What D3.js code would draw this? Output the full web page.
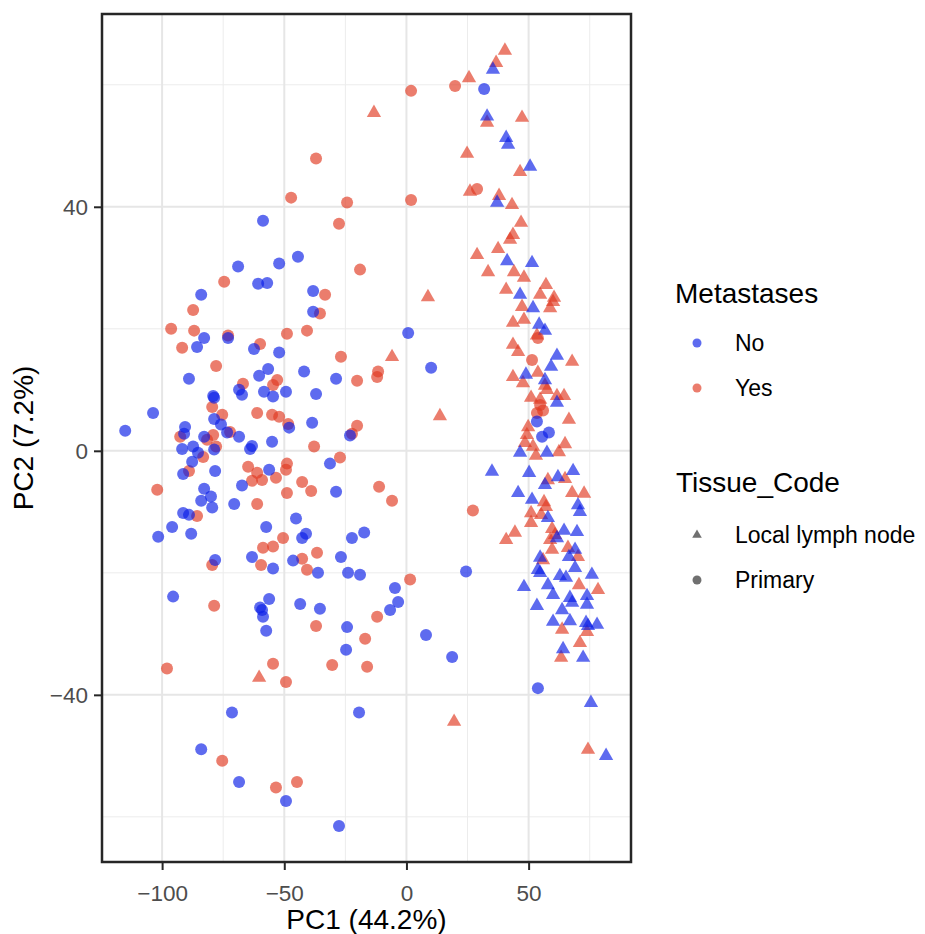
<!DOCTYPE html>
<html>
<head>
<meta charset="utf-8">
<script src="https://cdn.jsdelivr.net/npm/d3@7"></script>
<style>
  body { margin: 0; background: #fff; }
  svg { display: block; font-family: "Liberation Sans", Arial, Helvetica, sans-serif; }
</style>
</head>
<body>
<div id="chart"></div>
<script>
// ---- data (PC1, PC2) by group
const noPrimary = [
  [-58.7,37.7],[-44.4,31.8],[-52.1,30.7],[-68.9,30.2],[-60.7,27.4],[-57.0,27.5],[-38.2,26.2],[-84.0,25.6],
  [-38.2,22.8],[-82.8,18.5],[-73.0,18.5],[-85.7,17.0],[-62.4,16.7],[-52.1,16.1],[-56.6,13.4],[-60.3,12.3],
  [-41.9,13.0],[-28.8,11.8],[-89.0,11.8],[-68.5,10.0],[-67.3,9.2],[-58.3,9.7],[-54.6,8.9],[-49.3,9.7],
  [-37.0,9.3],[-79.1,9.0],[-78.7,8.7],[-103.7,6.2],[-78.7,5.2],[-115.1,3.3],[-90.6,3.9],[-91.0,2.8],
  [-75.9,4.3],[-73.4,3.0],[-68.5,2.3],[-48.0,3.8],[-38.6,4.6],[-23.1,2.5],[-82.8,2.3],[-78.7,0.2],
  [-91.8,0.3],[-87.3,0.7],[-85.3,-0.3],[-87.7,-1.8],[-91.4,-3.8],[-63.2,0.8],[-64.0,0.3],[-55.0,1.5],
  [-78.3,-3.3],[-56.2,-3.1],[-31.3,-2.1],[-28.8,-6.7],[-67.3,-5.7],[-82.8,-6.2],[-80.0,-7.5],[-84.0,-8.2],
  [-79.5,-9.3],[-70.5,-8.7],[-45.2,-11.1],[-91.4,-10.2],[-89.0,-10.5],[-95.9,-12.5],[-101.6,-14.1],[-88.1,-13.6],
  [-57.4,-12.5],[-41.1,-13.6],[-42.7,-14.3],[-22.3,-14.3],[-17.3,-13.4],[-26.8,-17.4],[-63.2,-17.4],[-46.4,-18.0],
  [-78.3,-17.9],[-54.6,-19.3],[-36.2,-20.0],[-23.9,-20.0],[-19.0,-20.3],[-95.5,-23.9],[-56.2,-24.3],[-59.1,-26.1],
  [-59.9,-25.7],[-58.7,-27.2],[-57.4,-29.5],[-43.5,-25.1],[-35.4,-25.9],[-24.3,-28.9],[-24.7,-32.6],[-71.4,-42.9],
  [-19.4,-42.9],[-84.0,-48.9],[-68.5,-54.3],[-49.3,-57.4],[-27.6,-61.5],[24.4,-19.8],[-4.7,-22.5],[-3.4,-24.8],
  [-6.7,-26.1],[8.0,-30.2],[18.7,-33.8],[53.8,-38.9],[31.8,59.3],[0.7,19.3],[10.1,13.6],[53.4,4.8],
  [58.3,3.0],[55.5,2.3]
];
const yesPrimary = [
  [-37.0,47.9],[-47.2,41.5],[-24.3,40.7],[-27.6,37.2],[-19.0,29.7],[-74.6,27.7],[-33.3,25.6],[-87.3,23.1],
  [-35.4,22.5],[-96.3,20.0],[-86.9,19.7],[-73.0,18.9],[-48.9,19.2],[-40.7,19.7],[-91.8,16.9],[-59.9,17.5],
  [-26.8,15.4],[-77.9,13.9],[-20.2,11.5],[-66.9,11.0],[-52.9,11.6],[-54.6,10.8],[-79.5,7.2],[-61.1,6.2],
  [-75.4,5.9],[-55.0,5.9],[-52.1,5.6],[-72.2,3.1],[-48.4,4.4],[-20.2,4.1],[-22.3,2.8],[-92.6,2.3],
  [-81.6,1.8],[-79.1,2.6],[-77.9,0.7],[-83.2,-1.0],[-89.0,-3.3],[-37.8,0.7],[-64.8,-2.6],[-61.1,-3.6],
  [-63.2,-4.9],[-59.1,-4.8],[-53.4,-4.4],[-48.9,-2.1],[-49.3,-3.1],[-27.2,-1.1],[-42.7,-5.1],[-39.0,-6.6],
  [-48.9,-6.9],[-102.0,-6.4],[-61.1,-8.7],[-85.7,-10.7],[-50.5,-14.3],[-58.7,-15.9],[-54.6,-15.7],[-36.6,-16.7],
  [-42.7,-17.7],[-40.7,-19.5],[-79.5,-18.7],[-59.5,-18.7],[-78.7,-25.4],[-37.0,-28.7],[-16.9,-30.8],[-98.0,-35.7],
  [-54.6,-34.9],[-49.3,-37.9],[-30.4,-35.1],[-16.1,-35.4],[-75.4,-50.8],[-53.4,-55.2],[-44.8,-54.3],[1.5,-21.1],
  [-12.0,-27.2],[19.9,59.8],[1.9,59.0],[1.9,41.1],[28.9,42.9],[-11.6,13.0],[-12.0,12.1],[-11.2,-5.9],
  [-5.9,-8.2],[27.2,-9.8],[51.4,14.9],[54.7,7.5],[55.9,6.6],[53.4,6.2],[53.8,18.5]
];
const noLymph = [
  [35.4,62.5],[33.0,54.8],[40.8,51.3],[41.6,50.2],[50.6,46.6],[37.1,40.7],[41.2,31.1],[51.4,30.8],
  [46.5,25.6],[51.8,23.4],[54.3,20.7],[56.7,19.7],[61.6,15.6],[59.2,13.8],[48.9,12.5],[56.7,11.6],
  [61.6,7.9],[46.5,-0.3],[57.5,-0.3],[35.0,-3.4],[50.2,-3.6],[68.2,-3.3],[62.0,-4.3],[56.7,-5.6],
  [45.7,-6.9],[51.4,-8.0],[70.2,-8.9],[71.0,-10.0],[57.9,-11.0],[64.5,-13.1],[69.8,-13.3],[61.6,-14.3],
  [69.0,-16.2],[54.7,-17.5],[66.5,-17.4],[69.0,-19.2],[53.8,-19.5],[62.8,-20.5],[65.3,-20.8],[75.9,-20.3],
  [48.1,-22.3],[57.9,-22.0],[60.0,-23.6],[66.9,-24.1],[73.9,-23.8],[53.4,-25.4],[63.7,-26.1],[73.9,-25.2],
  [60.0,-28.0],[66.9,-27.9],[73.5,-28.2],[74.3,-28.7],[78.0,-28.5],[64.1,-32.5],[72.3,-33.9],[75.5,-41.3],
  [81.7,-50.0],[54.7,-20.0],[67.8,-24.9]
];
const yesLymph = [
  [40.3,65.6],[36.7,63.6],[25.6,61.1],[-13.3,55.4],[33.0,53.8],[47.3,54.6],[24.8,48.7],[46.5,45.7],
  [26.0,42.5],[37.9,41.8],[43.2,40.3],[46.9,37.4],[43.6,35.4],[42.4,34.6],[28.9,32.1],[37.5,33.1],
  [33.4,29.3],[44.0,29.3],[48.1,28.4],[8.8,25.2],[40.8,26.4],[57.1,27.2],[54.7,25.6],[60.4,25.1],
  [47.3,23.6],[58.8,23.4],[60.0,24.4],[43.6,21.0],[48.1,21.5],[53.4,18.9],[43.6,17.4],[45.7,16.2],
  [67.8,14.6],[-5.9,15.4],[43.6,12.1],[47.7,11.1],[53.8,12.8],[56.7,10.7],[57.5,10.0],[61.6,9.0],
  [64.5,9.0],[51.0,8.7],[54.7,8.4],[66.5,5.1],[49.8,3.9],[49.3,2.6],[48.5,1.3],[51.8,0.7],
  [53.0,-0.8],[62.4,-0.2],[64.9,1.1],[13.7,5.7],[57.9,-4.8],[64.9,-4.6],[56.3,-8.4],[57.1,-9.2],
  [67.8,-6.9],[72.7,-7.0],[51.0,-10.2],[55.1,-10.5],[51.0,-11.8],[59.6,-12.8],[60.8,-13.8],[44.4,-13.4],
  [40.8,-14.6],[58.8,-14.6],[66.1,-15.9],[59.6,-16.2],[55.9,-17.9],[70.2,-17.4],[70.6,-22.0],[78.4,-22.8],
  [63.7,-29.3],[63.3,-33.9],[71.0,-31.5],[73.9,-29.7],[-60.3,-37.2],[19.5,-44.4],[74.3,-49.0]
];

const metLevels    = ["No", "Yes"];
const tissueLevels = ["Local lymph node", "Primary"];
const xTicks = [-100, -50, 0, 50];
const xMinor = [-75, -25, 25, 75];
const yTicks = [-40, 0, 40];
const yMinor = [-60, -20, 20, 60];
const X_DOMAIN = [-124.6, 91.9];
const Y_DOMAIN = [-67.4, 71.6];

// ---- layout
const W = 925, H = 934;
const P = {l: 102, r: 631, t: 14, b: 862};
const COL = {No: "#0a1ee6", Yes: "#e03a22"};
const ALPHA = 0.66;

const svg = d3.select("#chart").append("svg").attr("width", W).attr("height", H);

const x = d3.scaleLinear().domain(X_DOMAIN).range([P.l, P.r]);
const y = d3.scaleLinear().domain(Y_DOMAIN).range([P.b, P.t]);

// grid
const grid = svg.append("g");
grid.selectAll(".xmin").data(xMinor).join("line")
  .attr("x1", d => x(d)).attr("x2", d => x(d)).attr("y1", P.t).attr("y2", P.b)
  .attr("stroke", "#ececec").attr("stroke-width", 1);
grid.selectAll(".ymin").data(yMinor).join("line")
  .attr("y1", d => y(d)).attr("y2", d => y(d)).attr("x1", P.l).attr("x2", P.r)
  .attr("stroke", "#ececec").attr("stroke-width", 1);
grid.selectAll(".xmaj").data(xTicks).join("line")
  .attr("x1", d => x(d)).attr("x2", d => x(d)).attr("y1", P.t).attr("y2", P.b)
  .attr("stroke", "#e6e6e6").attr("stroke-width", 2);
grid.selectAll(".ymaj").data(yTicks).join("line")
  .attr("y1", d => y(d)).attr("y2", d => y(d)).attr("x1", P.l).attr("x2", P.r)
  .attr("stroke", "#e6e6e6").attr("stroke-width", 2);

// points
const pts = [
  ...yesLymph.map(d => ({pc1: d[0], pc2: d[1], met: "Yes", tis: "Local lymph node"})),
  ...noLymph.map(d => ({pc1: d[0], pc2: d[1], met: "No", tis: "Local lymph node"})),
  ...yesPrimary.map(d => ({pc1: d[0], pc2: d[1], met: "Yes", tis: "Primary"})),
  ...noPrimary.map(d => ({pc1: d[0], pc2: d[1], met: "No", tis: "Primary"}))
];
const tri = d3.symbol(d3.symbolTriangle, 88)();
const circ = d3.symbol(d3.symbolCircle, Math.PI * 36)();

svg.append("g").selectAll("path").data(pts).join("path")
  .attr("transform", d => `translate(${x(d.pc1)},${y(d.pc2)})`)
  .attr("d", d => d.tis === "Primary" ? circ : tri)
  .attr("fill", d => COL[d.met])
  .attr("fill-opacity", ALPHA);

// panel border
svg.append("rect").attr("x", P.l).attr("y", P.t)
  .attr("width", P.r - P.l).attr("height", P.b - P.t)
  .attr("fill", "none").attr("stroke", "#262626").attr("stroke-width", 2.5);

const fmt = d => d < 0 ? "\u2212" + Math.abs(d) : String(d);

// x axis
const gx = svg.append("g").attr("transform", `translate(0,${P.b + 1})`)
  .call(d3.axisBottom(x).tickValues(xTicks).tickSize(7).tickFormat(fmt));
gx.select(".domain").remove();
gx.selectAll("line").attr("stroke", "#262626").attr("stroke-width", 2);
gx.selectAll("text").attr("y", 38).attr("dy", 0)
  .attr("font-size", 22.5).attr("fill", "#4d4d4d").attr("font-family", null);

// y axis
const gy = svg.append("g").attr("transform", `translate(${P.l - 1},0)`)
  .call(d3.axisLeft(y).tickValues(yTicks).tickSize(7).tickFormat(fmt));
gy.select(".domain").remove();
gy.selectAll("line").attr("stroke", "#262626").attr("stroke-width", 2);
gy.selectAll("text").attr("x", -13).attr("dy", "0.36em")
  .attr("font-size", 22.5).attr("fill", "#4d4d4d").attr("font-family", null);

// axis titles
svg.append("text").attr("x", (P.l + P.r) / 2).attr("y", 929)
  .attr("text-anchor", "middle").attr("font-size", 28).attr("fill", "#000")
  .text("PC1 (44.2%)");
svg.append("text").attr("transform", `translate(33,${(P.t + P.b) / 2}) rotate(-90)`)
  .attr("text-anchor", "middle").attr("font-size", 28).attr("fill", "#000")
  .text("PC2 (7.2%)");

// legends
const lg = svg.append("g");
lg.append("text").attr("x", 675).attr("y", 303).attr("font-size", 28).text("Metastases");
metLevels.forEach((m, i) => {
  const cy = 343 + i * 45;
  lg.append("circle").attr("cx", 697).attr("cy", cy).attr("r", 4.5)
    .attr("fill", COL[m]).attr("fill-opacity", ALPHA);
  lg.append("text").attr("x", 735).attr("y", cy + 8).attr("font-size", 23).text(m);
});

lg.append("text").attr("x", 676).attr("y", 492).attr("font-size", 28).text("Tissue_Code");
tissueLevels.forEach((t, i) => {
  const cy = 535 + i * 45;
  lg.append("path")
    .attr("transform", `translate(697,${cy})`)
    .attr("d", t === "Primary" ? d3.symbol(d3.symbolCircle, Math.PI * 20)() : d3.symbol(d3.symbolTriangle, 40)())
    .attr("fill", "#333").attr("fill-opacity", 0.7);
  lg.append("text").attr("x", 735).attr("y", cy + 8).attr("font-size", 23).text(t);
});
</script>
</body>
</html>
